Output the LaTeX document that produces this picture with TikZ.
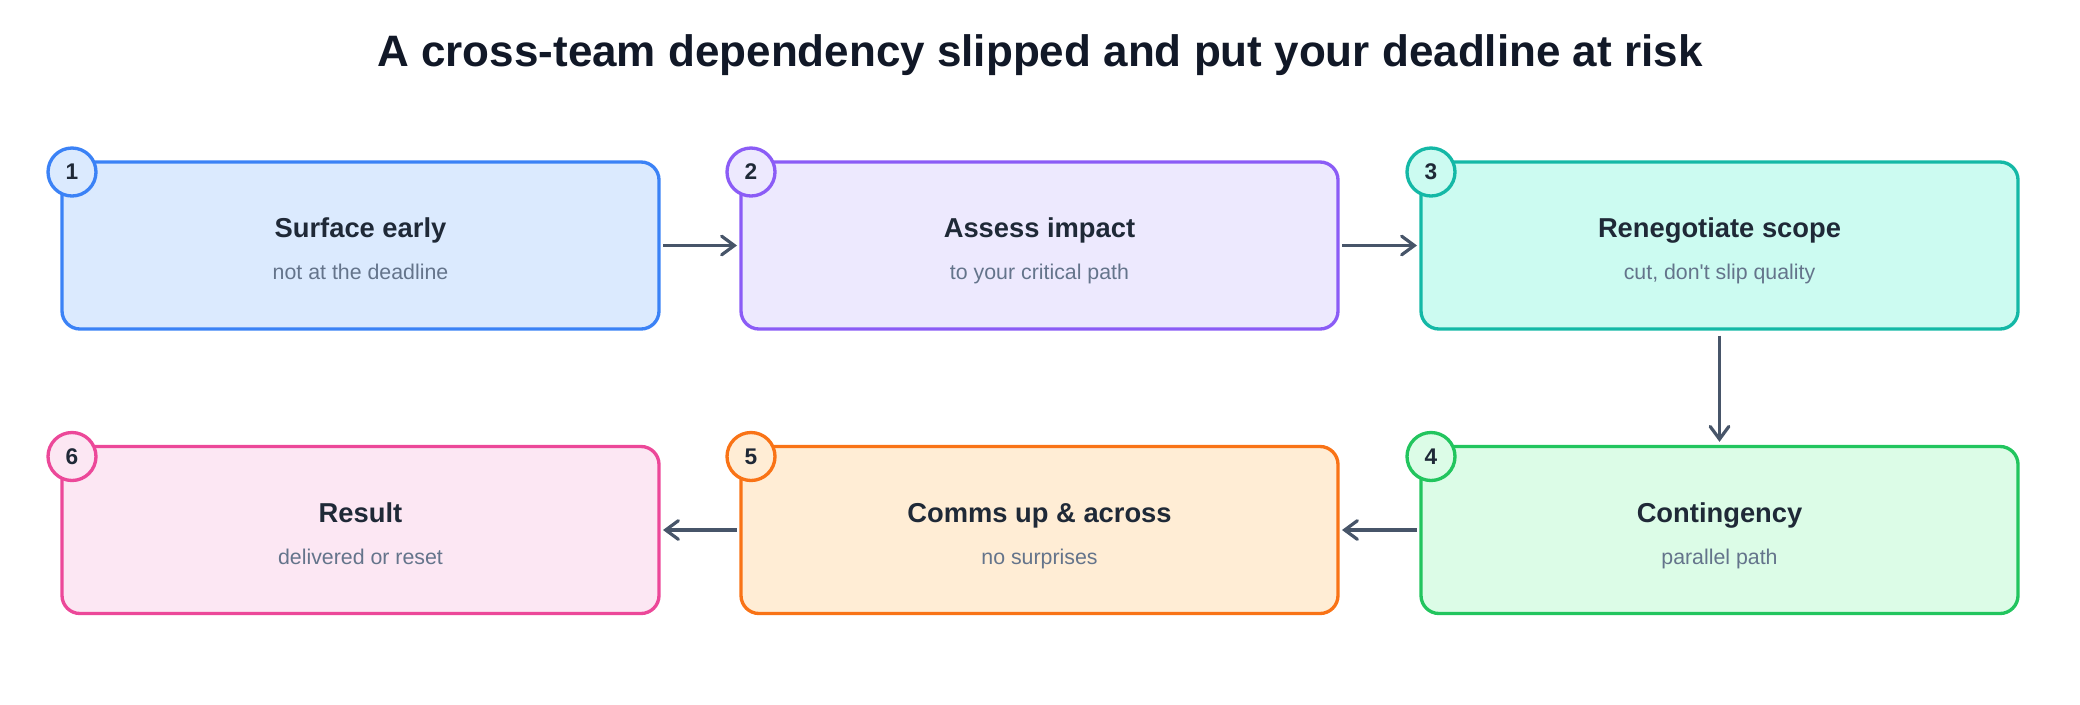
\documentclass[tikz,border=0pt]{standalone}
\usepackage{fontspec}
\setmainfont{Liberation Sans}[Ligatures=TeXOff]
\usetikzlibrary{arrows.meta}
\definecolor{titlec}{HTML}{111827}
\definecolor{boxtitle}{HTML}{1F2937}
\definecolor{subtext}{HTML}{64748B}
\definecolor{arrowc}{HTML}{475569}
\definecolor{fillA}{HTML}{DBEAFE}\definecolor{drawA}{HTML}{3B82F6}
\definecolor{fillB}{HTML}{EDE9FE}\definecolor{drawB}{HTML}{8B5CF6}
\definecolor{fillC}{HTML}{CCFBF1}\definecolor{drawC}{HTML}{14B8A6}
\definecolor{fillD}{HTML}{DCFCE7}\definecolor{drawD}{HTML}{22C55E}
\definecolor{fillE}{HTML}{FFEDD5}\definecolor{drawE}{HTML}{F97316}
\definecolor{fillF}{HTML}{FCE7F3}\definecolor{drawF}{HTML}{EC4899}
\begin{document}
\begin{tikzpicture}[x=0.75pt,y=-0.75pt,
  stepbox/.style={draw, line width=2.5pt, rounded corners=13.5pt, minimum width=447.75pt, minimum height=125.25pt, inner sep=0pt, outer sep=0pt},
  badge/.style={circle, draw, line width=2.5pt, minimum size=36pt, inner sep=0pt, font=\fontsize{17}{17}\selectfont\bfseries, text=boxtitle},
  ttl/.style={anchor=base, inner sep=0pt, font=\fontsize{20.5}{24}\selectfont\bfseries, text=boxtitle},
  sub/.style={anchor=base, inner sep=0pt, font=\fontsize{16}{19}\selectfont, text=subtext},
  conn/.style={draw=arrowc, line width=2.4pt, -{Straight Barb[length=9.5pt,width=14pt,line cap=round]}, shorten <=3pt, shorten >=3pt}]
\useasboundingbox (0,0) rectangle (2080,704);
\node[anchor=base, inner sep=0pt, font=\fontsize{33}{40}\selectfont\bfseries, text=titlec] (title) at (1040,66) {A cross-team dependency slipped and put your deadline at risk};
% boxes
\node[stepbox, fill=fillA, draw=drawA] (b1) at (360.5,245.5) {};
\node[stepbox, fill=fillB, draw=drawB] (b2) at (1039.5,245.5) {};
\node[stepbox, fill=fillC, draw=drawC] (b3) at (1719.5,245.5) {};
\node[stepbox, fill=fillD, draw=drawD] (b4) at (1719.5,530) {};
\node[stepbox, fill=fillE, draw=drawE] (b5) at (1039.5,530) {};
\node[stepbox, fill=fillF, draw=drawF] (b6) at (360.5,530) {};
% texts
\node[ttl] (t1) at ([shift={(0,-8)}]b1.center) {Surface early};
\node[sub] (s1) at ([shift={(0,34)}]b1.center) {not at the deadline};
\node[ttl] (t2) at ([shift={(0,-8)}]b2.center) {Assess impact};
\node[sub] (s2) at ([shift={(0,34)}]b2.center) {to your critical path};
\node[ttl] (t3) at ([shift={(0,-8)}]b3.center) {Renegotiate scope};
\node[sub] (s3) at ([shift={(0,34)}]b3.center) {cut, don't slip quality};
\node[ttl] (t4) at ([shift={(0,-8)}]b4.center) {Contingency};
\node[sub] (s4) at ([shift={(0,34)}]b4.center) {parallel path};
\node[ttl] (t5) at ([shift={(0,-8)}]b5.center) {Comms up \& across};
\node[sub] (s5) at ([shift={(0,34)}]b5.center) {no surprises};
\node[ttl] (t6) at ([shift={(0,-8)}]b6.center) {Result};
\node[sub] (s6) at ([shift={(0,34)}]b6.center) {delivered or reset};
% badges
\node[badge, fill=fillA, draw=drawA] (c1) at ([shift={(10,10)}]b1.north west) {1};
\node[badge, fill=fillB, draw=drawB] (c2) at ([shift={(10,10)}]b2.north west) {2};
\node[badge, fill=fillC, draw=drawC] (c3) at ([shift={(10,10)}]b3.north west) {3};
\node[badge, fill=fillD, draw=drawD] (c4) at ([shift={(10,10)}]b4.north west) {4};
\node[badge, fill=fillE, draw=drawE] (c5) at ([shift={(10,10)}]b5.north west) {5};
\node[badge, fill=fillF, draw=drawF] (c6) at ([shift={(10,10)}]b6.north west) {6};
% connectors
\draw[conn] (b1.east) -- (b2.west);
\draw[conn] (b2.east) -- (b3.west);
\draw[conn, shorten <=5pt, shorten >=3.5pt] (b3.south) -- (b4.north);
\draw[conn] (b4.west) -- (b5.east);
\draw[conn] (b5.west) -- (b6.east);
\end{tikzpicture}
\end{document}
